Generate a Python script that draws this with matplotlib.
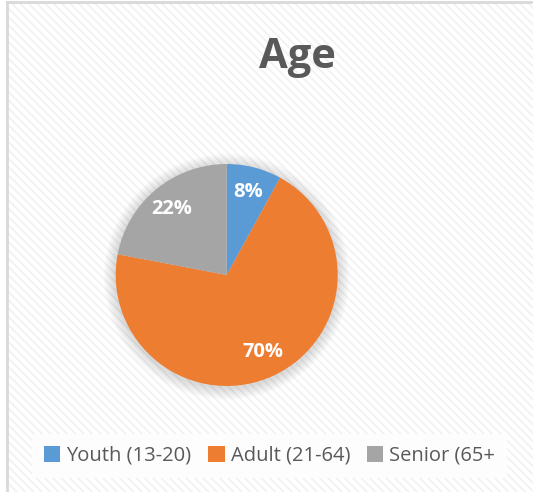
import matplotlib
matplotlib.use("Agg")
import matplotlib.pyplot as plt
from matplotlib.patches import Rectangle, Circle

categories = ["Youth (13-20)", "Adult (21-64)", "Senior (65+"]
values = [8, 70, 22]
colors = ["#5b9bd5", "#ed7d31", "#a5a5a5"]
title = "Age"

W, H = 533, 492
dpi = 100
plt.rcParams['hatch.linewidth'] = 1.2
fig = plt.figure(figsize=(W / dpi, H / dpi), dpi=dpi)
fig.patch.set_facecolor("white")

def fx(px):
    return px / W

def fy(py):
    return 1 - py / H

# chart area background with diagonal stripes
bg = Rectangle((fx(7), 0), 1 - fx(7), fy(2), transform=fig.transFigure,
               facecolor="white", edgecolor="#f1f1f1", linewidth=0,
               hatch="\\\\\\\\", zorder=0)
fig.add_artist(bg)
fig.add_artist(plt.Line2D([fx(7), fx(7)], [0, fy(2)], transform=fig.transFigure,
                          color="#d9d9d9", lw=2, zorder=1))
fig.add_artist(plt.Line2D([fx(7), 1], [fy(2), fy(2)], transform=fig.transFigure,
                          color="#d9d9d9", lw=2, zorder=1))

fig.text(fx(297), fy(57), title, ha="center", va="center", fontsize=30,
         fontweight="bold", color="#595959", family="Open Sans")

cx, cy, r = 226.7, 275, 111
ax = fig.add_axes([fx(cx - r), fy(cy + r), 2 * r / W, 2 * r / H])
ax.axis("off")
ax.patch.set_alpha(0)

wedges, texts, autotexts = ax.pie(values, colors=colors, startangle=90, counterclock=False,
                                  radius=1.0, autopct="%d%%", pctdistance=0.77,
                                  wedgeprops=dict(linewidth=0),
                                  textprops=dict(color="white", fontsize=14.5,
                                                 fontweight="bold", family="Open Sans"))
ax.set_xlim(-1, 1)
ax.set_ylim(-1, 1)
ax.set_aspect("equal")

# soft shadow
for i in range(12):
    rr = 1.0 + 0.009 * (12 - i)
    ax.add_patch(Circle((0.0, -0.015), rr, facecolor="#808080", alpha=0.025,
                        edgecolor="none", zorder=0, clip_on=False))
for w in wedges:
    w.set_zorder(2)
for t in autotexts:
    t.set_zorder(3)

leg = fig.legend(wedges, categories, loc="center left", bbox_to_anchor=(fx(32), fy(456)),
                 ncol=3, frameon=True, fancybox=False, framealpha=1,
                 prop=dict(family="Open Sans", size=14.5), labelcolor="#595959",
                 handlelength=0.8, handleheight=0.8, handletextpad=0.3,
                 columnspacing=0.85, borderpad=0.6, borderaxespad=0)
leg.get_frame().set_edgecolor("none")
leg.get_frame().set_linewidth(0)
leg.get_frame().set_facecolor("#fdfdfd")

fig.savefig("out.png", dpi=dpi, facecolor="white")
